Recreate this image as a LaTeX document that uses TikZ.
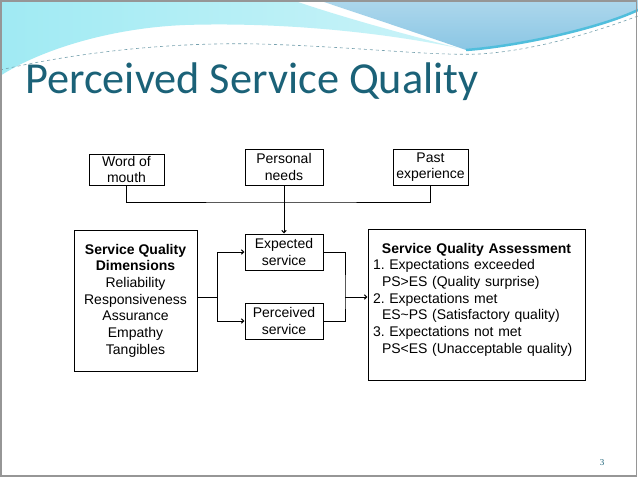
\documentclass[tikz,border=0pt]{standalone}
\usepackage{fontspec}
\setmainfont{Liberation Sans}
\newfontfamily\titlefont{Carlito}
\newfontfamily\numfont{Liberation Serif}
\usetikzlibrary{arrows.meta}
\definecolor{titleteal}{RGB}{27,98,120}
\definecolor{waveCyan}{RGB}{160,234,243}
\definecolor{waveBlue}{RGB}{138,198,228}
\definecolor{waveRim}{RGB}{80,190,220}
\definecolor{frameGray}{RGB}{150,150,150}

\begin{document}
\begin{tikzpicture}[x=1pt,y=-1pt,>={Straight Barb[length=2.5pt,width=4.5pt]},
    box/.style={draw, line width=1pt, align=center, inner sep=0pt,
        font=\fontsize{14}{16.7}\selectfont\frenchspacing},
    link/.style={line width=1pt}]

    % Slide
    \fill[white] (0,0) rectangle (638,479);
    \useasboundingbox (0,0) rectangle (638,479);

    % Waves
    \shade[left color=waveCyan, right color=waveCyan!55]
    (0,0) -- (292,0)
    .. controls (350,20) and (420,38) .. (458,48)
    .. controls (380,32) and (280,22) .. (185,25)
    .. controls (110,28) and (40,50) .. (0,76) -- cycle;

    \shade[top color=waveBlue!70!white, bottom color=waveBlue]
    (318,0) -- (638,0) -- (638,10)
    .. controls (600,28) and (520,46) .. (466,50)
    .. controls (420,34) and (360,14) .. (318,0) -- cycle;

    \draw[waveRim, line width=2.5pt]
    (466,50) .. controls (520,46) and (600,28) .. (638,10);

    \draw[titleteal!60, line width=0.6pt, dashed]
    (0,70) .. controls (80,52) and (170,42) .. (260,44)
    .. controls (360,47) and (430,56) .. (480,54)
    .. controls (540,50) and (600,30) .. (638,16);

    % Title
    \node[
        anchor=base west,
        inner sep=0pt,
        text=titleteal,
        font=\titlefont\fontsize{44.3}{50}\selectfont
    ] (title) at (25,93) {Perceived Service Quality};

    % Sources of expectation
    \node[box, minimum width=75pt, minimum height=31pt]
        (mouth) at (126.5,169.5) {Word of\\mouth};
    \node[box, minimum width=78pt, minimum height=36pt]
        (needs) at (284,167) {Personal\\needs};
    \node[box, minimum width=75pt, minimum height=36pt]
        (past) at (430.5,167) {Past\\experience};

    % Dimensions
    \node[box, minimum width=123pt, minimum height=141pt]
        (dims) at (135.5,300.5)
        {\textbf{Service Quality}\\\textbf{Dimensions}\\Reliability\\
         Responsiveness\\Assurance\\Empathy\\Tangibles};

    % Expected and perceived
    \node[box, minimum width=78pt, minimum height=36pt]
        (expected) at (284,252) {Expected\\service};
    \node[box, minimum width=78pt, minimum height=36pt]
        (perceived) at (284,321) {Perceived\\service};

    % Assessment
    \node[
        box,
        align=left,
        text width=207pt,
        inner xsep=5pt,
        minimum height=151pt
    ] (assess) at (476.5,304.5)
        {\makebox[207pt]{\textbf{Service Quality Assessment}}\\
         1. Expectations exceeded\\
         \hspace*{9pt}PS>ES (Quality surprise)\\
         2. Expectations met\\
         \hspace*{9pt}ES\textasciitilde PS (Satisfactory quality)\\
         3. Expectations not met\\
         \hspace*{9pt}PS<ES (Unacceptable quality)\\[-4pt]~};

    % Connectors
    \coordinate (join) at (284,202);
    \draw[link] (mouth.south) |- (join) -| (past.south);
    \draw[link,->] (needs.south) -- (expected.north);

    \coordinate (split) at (217,297);
    \draw[link] (dims.east |- split) -- (split);
    \draw[link,->] (split) |- (expected.west);
    \draw[link,->] (split) |- (perceived.west);

    \coordinate (merge) at (345,297);
    \draw[link] (expected.east) -| (merge) |- (perceived.east);
    \draw[link,->] (merge) -- (merge -| assess.west);

    % Page number
    \node[text=titleteal, font=\numfont\fontsize{9}{10}\selectfont]
        (pagenum) at (602,463) {3};

    % Frame
    \draw[frameGray, line width=1.5pt] (1,0.75) rectangle (636.5,476);

\end{tikzpicture}
\end{document}
